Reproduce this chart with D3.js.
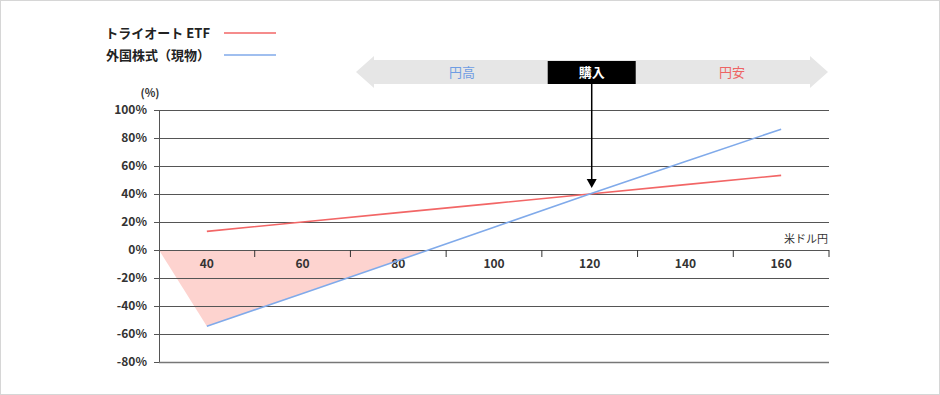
<!DOCTYPE html>
<html><head><meta charset="utf-8">
<script src="https://cdn.jsdelivr.net/npm/d3@7"></script>
<style>
body{margin:0;background:#fff}
svg{display:block}
text{font-family:"Noto Sans CJK JP","Noto Sans",sans-serif}
</style>
</head><body>
<svg id="c" width="940" height="395"></svg>
<script>
// ---- data ----
const categories = [40, 60, 80, 100, 120, 140, 160];
const seriesNames = ["トライオート ETF", "外国株式（現物）"];
const triautoValues = [13.3, 20, 26.7, 33.3, 40, 46.7, 53.3];
const stockValues = [-54.5, -31, -7.5, 16.3, 40, 63.2, 86.3];
const lossAreaX = [30, 40, 86.2];
const lossAreaY = [0, -54.5, 0];
const yTicks = [100, 80, 60, 40, 20, 0, -20, -40, -60, -80];
const xUnit = "米ドル円";
const yUnit = "(%)";
const bannerLabels = ["円高", "購入", "円安"];
const purchaseRate = 120;
const purchaseValue = 40;

// ---- drawing ----
const W = 940, H = 395;
const svg = d3.select("#c");
const red = "#f26666", blue = "#80aaea", pink = "#fdd3cf";

svg.append("rect").attr("x", 0.5).attr("y", 0.5).attr("width", W - 1).attr("height", H - 1)
  .attr("fill", "#fff").attr("stroke", "#d6d6d6");

const x = d3.scaleLinear().domain([30, 170]).range([159, 829]);
const y = d3.scaleLinear().domain([-80, 100]).range([362, 110]);

// loss area
const area = lossAreaX.map((d, i) => [x(d), y(lossAreaY[i])]);
svg.append("path").attr("d", d3.line()(area) + "Z").attr("fill", pink);

// grid lines
const yAxis = d3.axisLeft(y).tickValues(yTicks).tickSize(5).tickFormat(d => d + "%");
const gy = svg.append("g").attr("transform", `translate(${x(30)},0)`).call(yAxis);
gy.select(".domain").attr("stroke", "#555");
gy.selectAll(".tick line").attr("stroke", "#555");
gy.selectAll(".tick text").attr("x", -12).attr("font-size", 12).attr("font-weight", "bold").attr("fill", "#333");
gy.selectAll(".tick").append("line").attr("x1", 0).attr("x2", x(170) - x(30))
  .attr("stroke", (d) => d === -80 ? "#777" : "#555").attr("stroke-width", d => d === -80 ? 1.5 : 1);

svg.append("text").attr("x", 150).attr("y", 97).attr("text-anchor", "middle")
  .attr("font-size", 11).attr("font-weight", "bold").attr("fill", "#333").text(yUnit);

// x axis at 0%
const boundaries = categories.map(c => c + 10);
const gx = svg.append("g").attr("transform", `translate(0,${y(0)})`);
gx.selectAll("line.tk").data(boundaries).join("line").attr("class", "tk")
  .attr("x1", d => x(d)).attr("x2", d => x(d)).attr("y1", 0).attr("y2", 7)
  .attr("stroke", "#333");
gx.selectAll("text.lb").data(categories).join("text").attr("class", "lb")
  .attr("x", d => x(d)).attr("y", 18).attr("text-anchor", "middle")
  .attr("font-size", 12).attr("font-weight", "bold").attr("fill", "#333").text(d => d);
svg.append("text").attr("x", 828).attr("y", 243).attr("text-anchor", "end")
  .attr("font-size", 11).attr("fill", "#333").text(xUnit);

// series lines
const line = d3.line().x(d => x(d[0])).y(d => y(d[1]));
svg.append("path").attr("d", line(categories.map((c, i) => [c, triautoValues[i]])))
  .attr("fill", "none").attr("stroke", red).attr("stroke-width", 1.6);
svg.append("path").attr("d", line(categories.map((c, i) => [c, stockValues[i]])))
  .attr("fill", "none").attr("stroke", blue).attr("stroke-width", 1.6);

// legend
[red, blue].forEach((col, i) => {
  const ly = 33 + i * 22;
  svg.append("text").attr("x", 210).attr("y", ly + 5).attr("text-anchor", "end")
    .attr("font-size", 13).attr("font-weight", "bold").attr("fill", "#222").text(seriesNames[i]);
  svg.append("line").attr("x1", 224).attr("x2", 276).attr("y1", ly).attr("y2", ly)
    .attr("stroke", col).attr("stroke-width", 1.6);
});

// banner double arrow
const bx0 = 356, bx1 = 828, bcy = 72;
svg.append("path").attr("fill", "#e6e6e6").attr("d", [
  [bx0, bcy], [bx0 + 18, bcy - 16], [bx0 + 18, bcy - 12], [bx1 - 18, bcy - 12], [bx1 - 18, bcy - 16],
  [bx1, bcy], [bx1 - 18, bcy + 16], [bx1 - 18, bcy + 12], [bx0 + 18, bcy + 12], [bx0 + 18, bcy + 16]
].map((p, i) => (i ? "L" : "M") + p[0] + "," + p[1]).join("") + "Z");
const px = x(purchaseRate) + 2;
svg.append("rect").attr("x", px - 44).attr("y", 61).attr("width", 88).attr("height", 23).attr("fill", "#000");
svg.append("text").attr("x", px).attr("y", 77).attr("text-anchor", "middle")
  .attr("font-size", 13).attr("font-weight", "bold").attr("fill", "#fff").text(bannerLabels[1]);
svg.append("text").attr("x", 462).attr("y", 77).attr("text-anchor", "middle")
  .attr("font-size", 13).attr("fill", "#6f9de3").text(bannerLabels[0]);
svg.append("text").attr("x", 732).attr("y", 77).attr("text-anchor", "middle")
  .attr("font-size", 13).attr("fill", "#ee6464").text(bannerLabels[2]);

// purchase arrow
const tipY = y(purchaseValue) - 6;
svg.append("line").attr("x1", px).attr("x2", px).attr("y1", 84).attr("y2", tipY - 6)
  .attr("stroke", "#000").attr("stroke-width", 1.5);
svg.append("path").attr("d", `M${px - 5},${tipY - 9}L${px + 5},${tipY - 9}L${px},${tipY}Z`).attr("fill", "#000");
</script>
</body></html>
